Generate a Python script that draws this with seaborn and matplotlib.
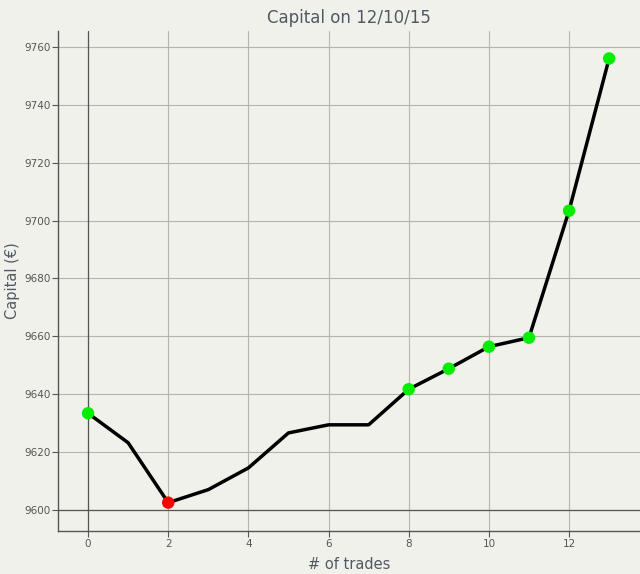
import pandas as pd
import matplotlib
matplotlib.use("Agg")
import matplotlib.pyplot as plt
import seaborn as sns

# Capital after each trade
trades = list(range(14))
capital = [9633.4, 9623.2, 9602.5, 9607.0, 9614.5, 9626.6, 9629.4,
           9629.4, 9641.7, 9648.8, 9656.4, 9659.5, 9703.4, 9756.0]

# highlighted points
win_idx = [0, 8, 9, 10, 11, 12, 13]
loss_idx = [2]

df = pd.DataFrame({"trade": trades, "capital": capital})
df_win = df.loc[win_idx]
df_loss = df.loc[loss_idx]

sns.set_style("whitegrid")
plt.rcParams["font.family"] = ["DejaVu Sans"]

bg = "#f1f1ec"
fig = plt.figure(figsize=(6.4, 5.74), dpi=100, facecolor=bg)
ax = fig.add_axes([0.0906, 0.0749, 0.9094, 0.8711], facecolor=bg)

sns.lineplot(data=df, x="trade", y="capital", color="black", linewidth=2.5, ax=ax)
sns.scatterplot(data=df_win, x="trade", y="capital", color="#00ee00", s=80,
                edgecolor="none", zorder=5, ax=ax)
sns.scatterplot(data=df_loss, x="trade", y="capital", color="#ff0000", s=80,
                edgecolor="none", zorder=5, ax=ax)

ax.axvline(0, color="#555555", linewidth=0.9, zorder=1)
ax.axhline(9600, color="#555555", linewidth=0.9, zorder=1)

ax.set_xlim(-0.75, 13.77)
ax.set_ylim(9592.7, 9765.5)
ax.set_xticks(range(0, 14, 2))
ax.set_yticks(range(9600, 9761, 20))
ax.grid(True, color="#b4b4b0", linewidth=0.8)

for side in ["top", "right"]:
    ax.spines[side].set_visible(False)
for side in ["left", "bottom"]:
    ax.spines[side].set_color("#555555")
    ax.spines[side].set_linewidth(1.0)

ax.tick_params(axis="both", colors="#555555", labelsize=7.5, length=4, pad=1.5,
               labelcolor="#555555")
ax.tick_params(axis="x", bottom=True)
ax.tick_params(axis="y", left=True)

ax.set_title("Capital on 12/10/15", color="#505a64", fontsize=12, pad=6)
ax.set_xlabel("# of trades", color="#505a64", fontsize=10.5, labelpad=6)
ax.set_ylabel("Capital (€)", color="#505a64", fontsize=10.5, labelpad=3)

fig.savefig("out.png", dpi=100, facecolor=bg)
